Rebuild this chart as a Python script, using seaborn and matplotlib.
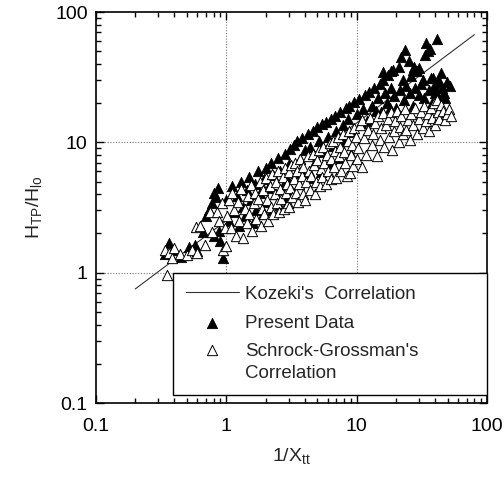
import matplotlib
matplotlib.use("Agg")
import matplotlib.pyplot as plt
from matplotlib.ticker import LogLocator, FixedLocator, FixedFormatter, NullFormatter
from matplotlib.legend_handler import HandlerPathCollection
import seaborn as sns
import pandas as pd

# Kozeki's correlation, drawn as a straight line on log-log axes
kozeki_x = [0.2, 80.0]
kozeki_y = [0.75, 67.0]

# Present data: 1/Xtt and H_TP/H_lo
present_x = [
    0.34, 0.36, 0.39, 0.45, 0.52, 0.57, 0.60, 0.66, 0.70, 0.74, 0.77, 0.80, 0.84, 0.80, 0.88, 0.95, 0.90, 0.86,
    1.00, 1.05, 1.10, 1.15, 1.20, 1.25, 1.30, 1.35, 1.40, 1.45, 1.50, 1.55, 1.60, 1.65, 1.70, 1.75, 1.80, 1.90,
    1.95, 2.00, 2.05, 2.10, 2.20, 2.25, 2.30, 2.40, 2.50, 2.55, 2.60, 2.70, 2.80, 2.85, 2.90, 3.00, 3.10, 3.20,
    3.30, 3.40, 3.50, 3.60, 3.70, 3.80, 3.90, 4.00, 4.20, 4.30, 4.40, 4.60, 4.70, 4.80, 5.00, 5.10, 5.30, 5.40,
    5.60, 5.80, 6.00, 6.20, 6.40, 6.60, 6.80, 7.00, 7.30, 7.50, 7.80, 8.00, 8.30, 8.60, 8.80, 9.00, 9.30, 9.60,
    10.0, 10.4, 10.8, 11.2, 11.6, 12.0, 12.5, 13.0, 13.5, 14.0, 14.5, 15.0, 15.5, 16.0, 16.5, 17.0, 17.5, 18.0,
    18.5, 19.0, 19.5, 20.0, 21.0, 21.5, 22.0, 22.5, 23.0, 24.0, 25.0, 25.5, 26.0, 27.0, 28.0, 29.0, 30.0, 31.0,
    32.0, 33.0, 34.0, 35.0, 36.0, 37.0, 38.0, 39.0, 40.0, 41.0, 42.0, 43.0, 45.0, 47.0, 49.0, 52.0, 44.0, 48.0,
    36.5, 33.5, 27.5, 23.3, 15.8, 18.4, 26.9, 30.0, 43.5, 38.5,
]
present_y = [
    1.38, 1.68, 1.50, 1.32, 1.58, 1.62, 1.47, 2.05, 2.70, 3.05, 3.45, 4.10, 3.80, 1.90, 2.10, 1.30, 1.75, 4.50,
    3.60, 2.50, 4.60, 2.90, 3.90, 2.30, 5.00, 3.20, 2.70, 4.30, 5.40, 3.60, 2.40, 4.80, 3.00, 6.00, 4.10, 2.80,
    5.20, 6.40, 3.50, 4.50, 7.00, 3.00, 5.60, 4.00, 7.60, 3.30, 6.00, 4.60, 8.20, 3.70, 5.30, 6.80, 8.90, 4.20,
    9.60, 5.80, 10.3, 4.80, 7.40, 10.8, 6.20, 8.70, 11.5, 5.30, 9.20, 12.2, 6.80, 7.80, 13.0, 10.2, 5.90, 13.8,
    8.40, 14.4, 11.0, 6.90, 15.2, 9.40, 16.0, 12.3, 7.60, 17.0, 13.6, 10.2, 18.2, 15.0, 19.0, 8.20, 12.0, 20.5,
    16.5, 21.5, 14.0, 18.0, 23.0, 14.5, 24.5, 19.0, 26.0, 17.5, 22.0, 28.0, 17.0, 30.0, 24.0, 20.0, 33.0, 18.5,
    26.0, 36.0, 22.5, 18.5, 38.0, 25.0, 45.0, 30.0, 21.0, 27.0, 42.0, 24.0, 32.0, 19.0, 26.0, 35.0, 23.0, 28.0,
    30.0, 22.0, 58.0, 50.0, 25.0, 31.0, 20.0, 27.0, 24.0, 62.0, 29.0, 22.0, 26.0, 24.0, 29.0, 27.0, 34.0, 22.0,
    52.0, 47.0, 38.0, 51.0, 34.5, 35.0, 36.0, 37.0, 28.5, 31.0,
]

# Schrock-Grossman's correlation evaluated at the same conditions
sg_x = [
    0.34, 0.35, 0.36, 0.38, 0.40, 0.44, 0.50, 0.55, 0.59, 0.60, 0.63, 0.68, 0.75, 0.78, 0.85, 0.88, 0.94, 0.97, 0.92,
    1.00, 1.02, 1.05, 1.08, 1.10, 1.14, 1.18, 1.22, 1.26, 1.30, 1.34, 1.38, 1.43, 1.47, 1.50, 1.55, 1.58, 1.62,
    1.66, 1.70, 1.75, 1.80, 1.84, 1.88, 1.92, 1.96, 2.00, 2.05, 2.10, 2.15, 2.20, 2.25, 2.30, 2.35, 2.40, 2.45,
    2.50, 2.55, 2.60, 2.65, 2.70, 2.75, 2.80, 2.85, 2.90, 2.95, 3.00,
    3.05, 3.10, 3.15, 3.20, 3.30, 3.35, 3.40, 3.50, 3.55, 3.60, 3.70, 3.80, 3.85, 3.90, 4.00, 4.10, 4.20, 4.30,
    4.40, 4.50, 4.60, 4.70, 4.80, 4.90, 5.00, 5.10, 5.20, 5.30, 5.40, 5.50, 5.60, 5.80, 5.90, 6.00, 6.20, 6.30,
    6.40, 6.60, 6.70, 6.80, 7.00, 7.20, 7.30, 7.50, 7.60, 7.80, 8.00, 8.20, 8.40, 8.60, 8.80, 8.90, 9.00, 9.20,
    9.40, 9.60, 9.80, 10.0,
    10.3, 10.6, 11.0, 11.0, 11.4, 11.8, 12.2, 12.6, 13.0, 13.4, 13.8, 14.2, 14.6, 15.0, 15.4, 15.8, 16.3, 16.8,
    17.3, 17.8, 18.3, 18.8, 19.3, 19.8, 20.5, 21.0, 21.5, 22.0, 22.7, 23.4, 24.0, 24.7, 25.5, 26.3, 27.0, 28.0,
    29.0, 30.0, 31.0, 32.0, 33.0, 34.0, 35.0, 36.0, 37.0, 38.0, 39.0, 40.0, 41.0, 42.0, 43.0, 44.0, 46.0, 48.0,
    49.6, 51.0, 53.0,
]
sg_y = [
    1.50, 0.96, 1.42, 1.30, 1.55, 1.38, 1.37, 1.48, 2.24, 1.41, 2.30, 1.62, 2.90, 2.05, 2.90, 2.50, 1.50, 2.20, 3.40,
    1.60, 2.70, 3.60, 2.20, 4.10, 3.00, 1.90, 3.50, 2.50, 4.40, 1.85, 3.10, 2.40, 3.90, 2.80, 4.70, 2.10, 3.40,
    4.10, 2.60, 3.70, 5.00, 2.30, 3.10, 4.30, 2.80, 5.30, 3.60, 2.50, 4.60, 3.20, 5.70, 2.80, 4.00, 5.00, 3.40,
    6.00, 2.90, 4.40, 3.70, 5.40, 3.10, 6.30, 4.10, 4.80, 3.40, 5.90,
    3.20, 4.50, 6.70, 3.80, 5.20, 7.00, 4.10, 6.00, 3.50, 4.80, 7.40, 5.50, 4.00, 6.50, 3.60, 5.00, 7.80, 6.00,
    4.30, 5.50, 8.20, 6.70, 4.00, 5.00, 7.30, 8.80, 4.60, 6.20, 5.40, 9.20, 7.00, 4.80, 8.00, 6.00, 9.80, 5.20,
    7.40, 10.3, 6.50, 8.60, 5.30, 11.0, 7.80, 9.20, 6.00, 11.6, 8.40, 7.00, 5.50, 10.2, 12.2, 5.80, 8.00, 9.50,
    6.60, 12.8, 11.0, 7.50,
    9.00, 13.5, 6.50, 14.9, 10.8, 8.00, 12.5, 15.5, 9.50, 11.5, 14.0, 7.80, 16.0, 10.5, 12.8, 16.7, 9.20, 13.5,
    15.0, 11.0, 17.0, 8.80, 12.2, 14.5, 17.5, 10.0, 13.0, 15.8, 11.5, 18.0, 12.5, 14.8, 10.4, 16.5, 13.5, 18.5,
    11.5, 15.0, 17.2, 12.8, 19.0, 14.5, 16.5, 12.2, 18.5, 15.5, 20.0, 13.5, 21.0, 17.0, 15.0, 19.5, 17.5, 14.8,
    16.4, 18.0, 16.0,
]

present = pd.DataFrame({"x": present_x, "y": present_y})
sg = pd.DataFrame({"x": sg_x, "y": sg_y})
kozeki = pd.DataFrame({"x": kozeki_x, "y": kozeki_y})

sns.set_style("ticks")
plt.rcParams["font.family"] = ["Liberation Sans", "DejaVu Sans"]
plt.rcParams["mathtext.fontset"] = "custom"
plt.rcParams["mathtext.rm"] = "Liberation Sans"
plt.rcParams["mathtext.default"] = "regular"

fig = plt.figure(figsize=(5.04, 4.78), dpi=100)
ax = fig.add_axes([96 / 504, 75 / 478, 391 / 504, 391 / 478])

ax.set_xscale("log")
ax.set_yscale("log")
ax.set_xlim(0.1, 100)
ax.set_ylim(0.1, 100)

# dotted grid at the inner decades
for v in (1, 10):
    ax.axvline(v, color="#777777", lw=0.8, ls=(0, (1, 1.5)), zorder=0)
    ax.axhline(v, color="#777777", lw=0.8, ls=(0, (1, 1.5)), zorder=0)

sns.lineplot(data=kozeki, x="x", y="y", ax=ax, color="#333333", lw=0.8,
             label="Kozeki's  Correlation", zorder=2)
sns.scatterplot(data=present, x="x", y="y", ax=ax, marker="^", s=55,
                color="black", edgecolor="black", linewidth=0.6,
                label="Present Data", zorder=3)
sns.scatterplot(data=sg, x="x", y="y", ax=ax, marker="^", s=55,
                facecolor="white", edgecolor="black", linewidth=0.7,
                label="Schrock-Grossman's\nCorrelation", zorder=4)

major = [0.1, 1, 10, 100]
labels = ["0.1", "1", "10", "100"]
for axis in (ax.xaxis, ax.yaxis):
    axis.set_major_locator(FixedLocator(major))
    axis.set_major_formatter(FixedFormatter(labels))
    axis.set_minor_locator(LogLocator(base=10, subs=range(2, 10)))
    axis.set_minor_formatter(NullFormatter())

ax.tick_params(which="both", direction="in", top=True, right=True, width=1.0, colors="black")
ax.tick_params(which="major", length=6, labelsize=14)
ax.tick_params(which="minor", length=3.5)
ax.tick_params(axis="x", which="major", pad=11)
ax.tick_params(axis="y", which="major", pad=6)

for sp in ax.spines.values():
    sp.set_linewidth(1.2)
    sp.set_color("black")

ax.set_xlabel(r"1/X$_{\mathrm{tt}}$", fontsize=14, labelpad=8)
ax.set_ylabel(r"H$_{\mathrm{TP}}$/H$_{\mathrm{lo}}$", fontsize=14, labelpad=8)

handles, labs = ax.get_legend_handles_labels()
sg_handle = handles[2]
leg = ax.legend(handles, labs, loc="lower left", bbox_to_anchor=(0.197, 0.02, 0.803, 0.31),
                mode="expand", fontsize=13.5, frameon=True, fancybox=False, edgecolor="black",
                handlelength=2.8, handletextpad=0.35, borderpad=0.7, labelspacing=0.62,
                borderaxespad=0.0,
                handler_map={sg_handle: HandlerPathCollection(yoffsets=[1.5])})
leg.get_frame().set_linewidth(1.0)
leg.get_frame().set_alpha(1.0)
leg.get_texts()[2].set_linespacing(1.36)

fig.savefig("out.png", dpi=100)
